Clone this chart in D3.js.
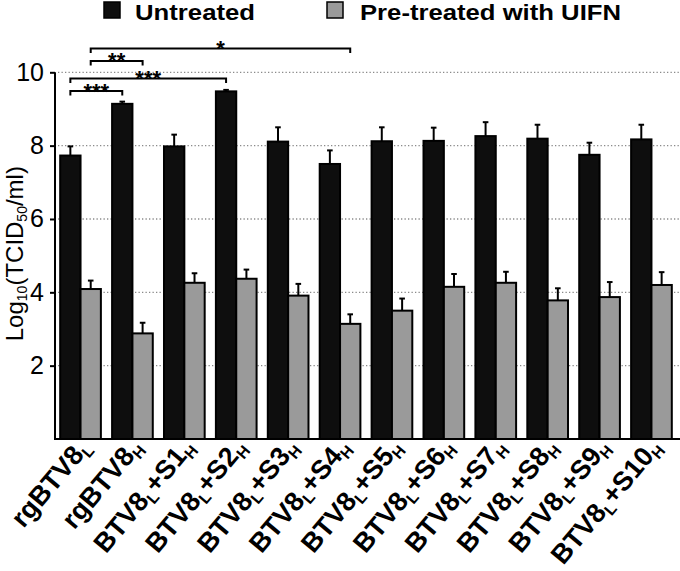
<!DOCTYPE html>
<html>
<head>
<meta charset="utf-8">
<script src="https://cdn.jsdelivr.net/npm/d3@7"></script>
<style>
  html, body { margin: 0; padding: 0; background: #fff; }
  svg { display: block; font-family: "Liberation Sans", Arial, sans-serif; }
</style>
</head>
<body>
<svg id="chart" width="680" height="571"></svg>
<script>
// ---- data ----
const categories = [
  "rgBTV8_{L}", "rgBTV8_{H}", "BTV8_{L}+S1_{H}", "BTV8_{L}+S2_{H}", "BTV8_{L}+S3_{H}", "BTV8_{L}+S4_{H}",
  "BTV8_{L}+S5_{H}", "BTV8_{L}+S6_{H}", "BTV8_{L}+S7_{H}", "BTV8_{L}+S8_{H}", "BTV8_{L}+S9_{H}", "BTV8_{L}+S10_{H}"
];
const seriesNames = ["Untreated", "Pre-treated with UIFN"];
const untreated    = [7.73, 9.14, 7.98, 9.48, 8.11, 7.50, 8.12, 8.13, 8.26, 8.19, 7.75, 8.17];
const untreatedErr = [0.25, 0.06, 0.32, 0.04, 0.39, 0.37, 0.38, 0.36, 0.38, 0.38, 0.33, 0.40];
const pretreated    = [4.09, 2.88, 4.26, 4.37, 3.91, 3.14, 3.50, 4.15, 4.26, 3.78, 3.87, 4.20];
const pretreatedErr = [0.23, 0.29, 0.26, 0.25, 0.32, 0.26, 0.33, 0.35, 0.30, 0.33, 0.41, 0.35];
const yTicks = [2, 4, 6, 8, 10];
// significance comparisons: [from category, to category, series index, label]
const comparisons = [
  [0, 1, 0, "***"],
  [0, 3, 0, "***"],
  [0, 1, 1, "**"],
  [0, 5, 1, "*"]
];
const comparisonLevels = [9.49, 9.83, 10.31, 10.65];

// ---- layout ----
const svg = d3.select("#chart");
const colors = ["#0e0e0e", "#9a9a9a"];
const y = d3.scaleLinear().domain([0, 10]).range([439, 72.3]);
const x = d3.scaleBand().domain(categories).range([55, 677]).paddingInner(0.216).paddingOuter(0.1);
const xs = d3.scaleBand().domain([0, 1]).range([0, x.bandwidth()]).padding(0);

const values = [untreated, pretreated];
const errs = [untreatedErr, pretreatedErr];

// gridlines
svg.append("g").selectAll("line").data(yTicks).join("line")
  .attr("x1", 58).attr("x2", 680)
  .attr("y1", d => y(d)).attr("y2", d => y(d))
  .attr("stroke", "#8a8a8a").attr("stroke-width", 1.3)
  .attr("stroke-dasharray", "1.3,2.2");

// bars
const groups = svg.append("g").selectAll("g").data(categories).join("g")
  .attr("transform", d => `translate(${x(d)},0)`);
[0, 1].forEach(s => {
  groups.append("rect")
    .attr("x", xs(s))
    .attr("width", xs.bandwidth())
    .attr("y", (d, i) => y(values[s][i]))
    .attr("height", (d, i) => y(0) - y(values[s][i]))
    .attr("fill", colors[s])
    .attr("stroke", "#000").attr("stroke-width", 2);
  // error bars (upward)
  groups.append("line")
    .attr("x1", xs(s) + xs.bandwidth() / 2).attr("x2", xs(s) + xs.bandwidth() / 2)
    .attr("y1", (d, i) => y(values[s][i]))
    .attr("y2", (d, i) => y(values[s][i] + errs[s][i]))
    .attr("stroke", "#000").attr("stroke-width", 2);
  groups.append("line")
    .attr("x1", xs(s) + xs.bandwidth() / 2 - 2.8).attr("x2", xs(s) + xs.bandwidth() / 2 + 2.8)
    .attr("y1", (d, i) => y(values[s][i] + errs[s][i]))
    .attr("y2", (d, i) => y(values[s][i] + errs[s][i]))
    .attr("stroke", "#000").attr("stroke-width", 2);
});

// y axis
const yAxis = d3.axisLeft(y).tickValues(yTicks).tickSize(5).tickPadding(6).tickFormat(d3.format("d"));
const gy = svg.append("g").attr("transform", "translate(55,0)").call(yAxis);
gy.select(".domain").attr("d", `M0,${y(10)}V${y(0)}`).attr("stroke-width", 2);
gy.selectAll(".tick line").attr("stroke-width", 2);
gy.selectAll(".tick text").attr("font-size", 25).attr("fill", "#000")
  .attr("font-family", "'Liberation Sans', Arial, sans-serif");

// x axis baseline
svg.append("line").attr("x1", 54).attr("x2", 680).attr("y1", y(0)).attr("y2", y(0))
  .attr("stroke", "#000").attr("stroke-width", 2.2);

// x labels
function richText(sel, str, size, subSize) {
  const parts = str.split(/_\{(.*?)\}/);
  parts.forEach((p, i) => {
    if (!p) return;
    const isSub = i % 2 === 1;
    sel.append("tspan").text(p)
      .attr("font-size", isSub ? subSize : size)
      .attr("dy", isSub ? 5 : (i > 0 ? -5 : 0));
  });
}
svg.append("g").selectAll("text").data(categories).join("text")
  .attr("transform", d => `translate(${x(d) + x.bandwidth() / 2 + 11},448) rotate(-50)`)
  .attr("text-anchor", "end")
  .attr("font-weight", "bold")
  .attr("fill", "#000")
  .each(function(d) { richText(d3.select(this), d, 27, 16); });

// y label
const yl = svg.append("text")
  .attr("transform", `translate(22.5,${(y(0) + y(10)) / 2 - 2}) rotate(-90)`)
  .attr("text-anchor", "middle").attr("fill", "#000");
yl.append("tspan").text("Log").attr("font-size", 24);
yl.append("tspan").text("10").attr("font-size", 14).attr("dy", 4);
yl.append("tspan").text("(TCID").attr("font-size", 24).attr("dy", -4);
yl.append("tspan").text("50").attr("font-size", 14).attr("dy", 4);
yl.append("tspan").text("/ml)").attr("font-size", 24).attr("dy", -4);

// significance brackets
const cx = (c, s) => x(categories[c]) + xs(s) + xs.bandwidth() / 2;
comparisons.forEach((cmp, k) => {
  const [a, b, s, lab] = cmp;
  const yy = y(comparisonLevels[k]);
  const x1 = cx(a, s), x2 = cx(b, s);
  svg.append("path")
    .attr("d", `M${x1},${yy + 4.5}V${yy}H${x2}V${yy + 4.5}`)
    .attr("fill", "none").attr("stroke", "#000").attr("stroke-width", 2);
  svg.append("text").attr("x", (x1 + x2) / 2).attr("y", yy + 7.5)
    .attr("text-anchor", "middle").attr("font-size", 22).attr("font-weight", "bold")
    .text(lab);
});

// legend
const legendX = [104, 327];
const legendTextX = [135, 360];
const legendLen = [120, 261];
seriesNames.forEach((n, i) => {
  svg.append("rect").attr("x", legendX[i]).attr("y", 2).attr("width", 16).attr("height", 16)
    .attr("fill", colors[i]).attr("stroke", "#000").attr("stroke-width", 1.5);
  svg.append("text").attr("x", legendTextX[i]).attr("y", 19.5)
    .attr("font-size", 21.5).attr("font-weight", "bold").attr("fill", "#000")
    .attr("textLength", legendLen[i]).attr("lengthAdjust", "spacingAndGlyphs")
    .text(n);
});
</script>
</body>
</html>
